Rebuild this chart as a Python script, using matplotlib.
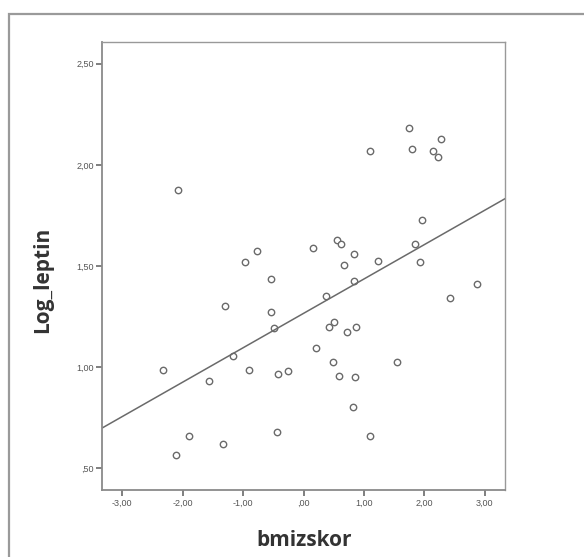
import matplotlib
matplotlib.use("Agg")
import matplotlib.pyplot as plt
import numpy as np
from matplotlib.patches import Rectangle

# values
bmizskor = [
    -2.326, -2.111, -2.083, -1.896, -1.565, -1.328, -1.305, -1.162, -0.974, -0.907,
    -0.775, -0.543, -0.533, -0.488, -0.439, -0.417, -0.262, 0.157, 0.200, 0.375,
    0.420, 0.510, 0.480, 0.555, 0.616, 0.580, 0.670, 0.718, 0.831, 0.831,
    0.864, 0.853, 0.820, 1.106, 1.106, 1.228, 1.548, 1.741, 1.791, 1.851,
    1.934, 1.962, 2.149, 2.227, 2.282, 2.420, 2.873,
]
log_leptin = [
    0.985, 0.566, 1.876, 0.661, 0.932, 0.622, 1.302, 1.056, 1.521, 0.985,
    1.572, 1.274, 1.436, 1.193, 0.680, 0.965, 0.980, 1.589, 1.094, 1.350,
    1.199, 1.224, 1.025, 1.630, 1.607, 0.957, 1.503, 1.174, 1.559, 1.424,
    1.201, 0.952, 0.803, 2.067, 0.661, 1.523, 1.025, 2.183, 2.081, 1.610,
    1.520, 1.729, 2.067, 2.038, 2.129, 1.343, 1.412,
]
fit_intercept = 1.266
fit_slope = 0.170

x_ticks = [-3, -2, -1, 0, 1, 2, 3]
x_tick_labels = ["-3,00", "-2,00", "-1,00", ",00", "1,00", "2,00", "3,00"]
y_ticks = [0.5, 1.0, 1.5, 2.0, 2.5]
y_tick_labels = [",50", "1,00", "1,50", "2,00", "2,50"]

W, H = 584, 557
fig = plt.figure(figsize=(W / 100, H / 100), dpi=100)

# outer gray frame (only top/left visible in the reference)
fig.patches.append(Rectangle((9 / W, -0.1), 1.2, (H - 14) / H + 0.1,
                             transform=fig.transFigure, fill=False,
                             edgecolor="#9a9a9a", linewidth=1.6))

left, right, top, bottom = 102.3, 504.7, 41.5, 490.0
ax = fig.add_axes([left / W, 1 - bottom / H, (right - left) / W, (bottom - top) / H])

xlim = (-3.33, 3.33)
ax.set_xlim(*xlim)
ax.set_ylim(0.393, 2.61)

ax.plot(bmizskor, log_leptin, linestyle="none", marker="o", markersize=4.6,
        markerfacecolor="white", markeredgecolor="#6a6a6a", markeredgewidth=1.0)

xs = np.array(xlim)
ax.plot(xs, fit_intercept + fit_slope * xs, color="#6a6a6a", linewidth=1.1)

for side in ["left", "bottom", "top", "right"]:
    ax.spines[side].set_color("#8a8a8a")
    ax.spines[side].set_linewidth(1.3)
for side in ["top", "right"]:
    ax.spines[side].set_linewidth(1.0)
    ax.spines[side].set_color("#999999")

ax.set_xticks(x_ticks)
ax.set_xticklabels(x_tick_labels)
ax.set_yticks(y_ticks)
ax.set_yticklabels(y_tick_labels)
ax.tick_params(axis="both", direction="out", length=4, width=1.2, color="#6a6a6a",
               labelsize=6.5, labelcolor="#555555", pad=2)
for lbl in ax.get_xticklabels() + ax.get_yticklabels():
    lbl.set_family("Liberation Sans")

fig.text(304 / W, 1 - 541 / H, "bmizskor", ha="center", va="center",
         fontsize=15, fontweight="bold", family="Open Sans", color="#333333")
fig.text(43 / W, 1 - 280 / H, "Log_leptin", ha="center", va="center", rotation=90,
         fontsize=15, fontweight="bold", family="Open Sans", color="#333333")

fig.savefig("out.png", dpi=100)
